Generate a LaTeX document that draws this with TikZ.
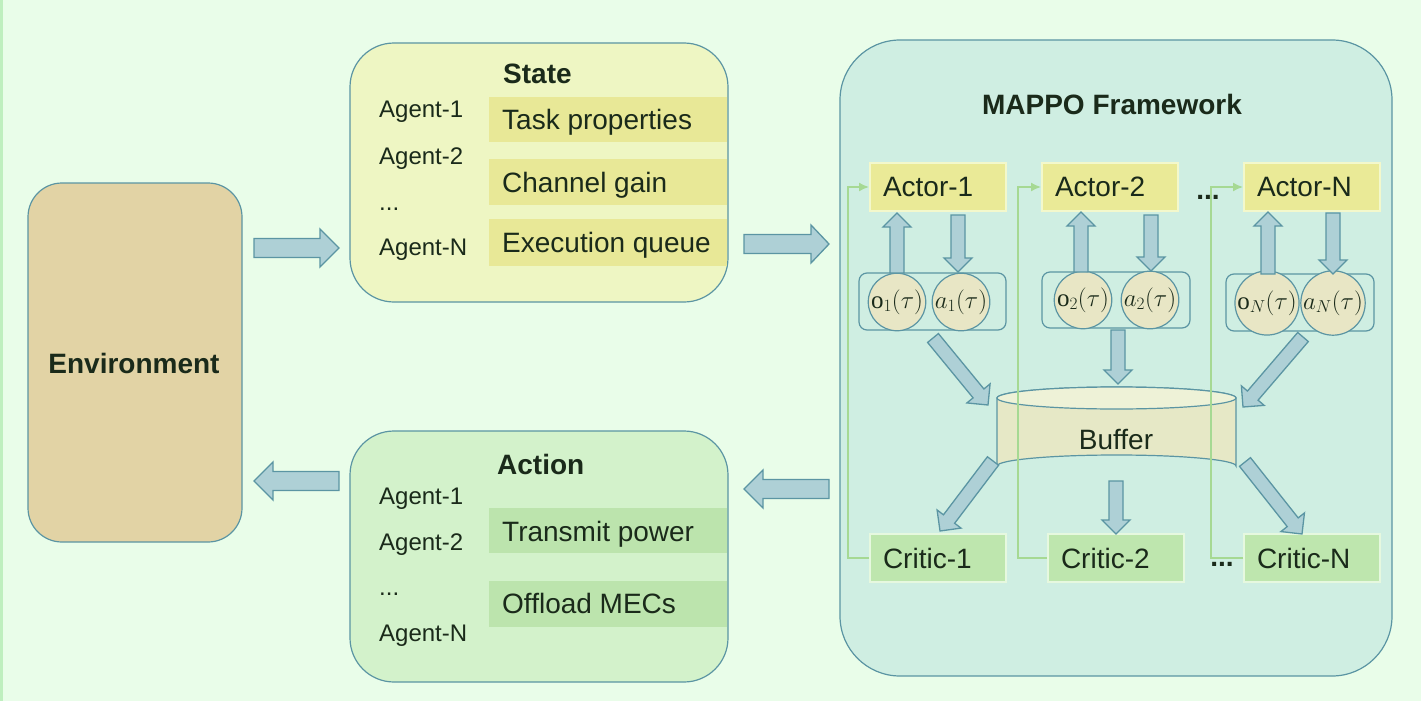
\documentclass[tikz,border=0pt]{standalone}
\usepackage{fontspec}
\setmainfont{Liberation Sans}
\setmathrm{Liberation Serif}
\usetikzlibrary{calc,arrows.meta}
\definecolor{bg}{HTML}{E9FDE9}
\definecolor{strip}{HTML}{BFEFBF}
\definecolor{teal}{HTML}{5B95A3}
\definecolor{arrfill}{HTML}{AED0D6}
\definecolor{envfill}{HTML}{E2D3A5}
\definecolor{statefill}{HTML}{EEF6C3}
\definecolor{stateband}{HTML}{E8E897}
\definecolor{actionfill}{HTML}{D3F2CB}
\definecolor{actionband}{HTML}{BCE4AD}
\definecolor{mappofill}{HTML}{CFEEE2}
\definecolor{actorfill}{HTML}{EAEA97}
\definecolor{actorline}{HTML}{F3F8CC}
\definecolor{criticfill}{HTML}{BEE6AE}
\definecolor{criticline}{HTML}{E6F8DF}
\definecolor{circfill}{HTML}{E8E6C5}
\definecolor{buffill}{HTML}{E6E8C6}
\definecolor{buftop}{HTML}{EEF2D7}
\definecolor{fbgreen}{HTML}{A6D993}
\definecolor{ink}{HTML}{1A2A1A}
\newcommand\fbig{\fontsize{28}{32}\selectfont}
\newcommand\fagent{\fontsize{24}{28}\selectfont}
\newcommand\fmath{\fontsize{25}{28}\selectfont}
\newcommand\fatarrow[5]{%
  \coordinate (fab) at ($(#2)!#5!(#1)$);
  \draw[fatstyle] ($(#1)!#3!90:(#2)$) -- ($(fab)!#3!-90:(#1)$) -- ($(fab)!#4!-90:(#1)$) -- (#2)
    -- ($(fab)!#4!90:(#1)$) -- ($(fab)!#3!90:(#1)$) -- ($(#1)!#3!-90:(#2)$) -- cycle;}
\begin{document}
\begin{tikzpicture}[x=1pt,y=-1pt,
  every node/.style={text=ink},
  fatstyle/.style={draw=teal, fill=arrfill, line width=1.3pt, line join=miter},
  bigbox/.style={draw=teal, line width=1.2pt},
  agent/.style={anchor=base west, font=\fagent, inner sep=0pt},
  bandtext/.style={anchor=base west, font=\fbig, inner sep=0pt},
  title/.style={font=\fbig\bfseries, inner sep=0pt},
  actorbox/.style={draw=actorline, fill=actorfill, line width=2pt, minimum height=48pt,
    text width=110pt, inner xsep=13pt, align=left, font=\fbig},
  criticbox/.style={draw=criticline, fill=criticfill, line width=2pt, minimum height=48pt,
    text width=110pt, inner xsep=13pt, align=left, font=\fbig},
  grp/.style={draw=teal, line width=1.2pt, rounded corners=8pt},
  obs/.style={circle, draw=teal, fill=circfill, line width=1.2pt, minimum size=54pt, inner sep=0pt, font=\fmath},
  fb/.style={draw=fbgreen, line width=1.6pt, -{Latex[length=10pt,width=9pt]}},
  dots/.style={font=\fbig\bfseries, inner sep=0pt, anchor=base}
]
\useasboundingbox (0,0) rectangle (1421,701);
\fill[bg] (0,0) rectangle (1421,701);
\fill[strip] (0,0) rectangle (3,701);

% Environment
\draw[bigbox, fill=envfill, rounded corners=34pt] (28,183) rectangle (242,542);
\node[title, anchor=base] (env) at (134,373) {Environment};

% State box
\draw[bigbox, fill=statefill, rounded corners=44pt] (350,43) rectangle (728,302);
\fill[stateband] (489,97) rectangle (727,142);
\fill[stateband] (489,159) rectangle (727,205);
\fill[stateband] (489,219) rectangle (727,266);
\node[title, anchor=base west] (state) at (503,83) {State};
\node[agent] (s1) at (379,117) {Agent-1};
\node[agent] (s2) at (379,164) {Agent-2};
\node[agent] (s3) at (379,210) {...};
\node[agent] (s4) at (379,255) {Agent-N};
\node[bandtext] (st1) at (502,129) {Task properties};
\node[bandtext] (st2) at (502,192) {Channel gain};
\node[bandtext] (st3) at (502,252) {Execution queue};

% Action box
\draw[bigbox, fill=actionfill, rounded corners=44pt] (350,431) rectangle (728,682);
\fill[actionband] (489,508) rectangle (727,553);
\fill[actionband] (489,581) rectangle (727,627);
\node[title, anchor=base west] (action) at (497,474) {Action};
\node[agent] (c1a) at (379,504) {Agent-1};
\node[agent] (c2a) at (379,550) {Agent-2};
\node[agent] (c3a) at (379,595) {...};
\node[agent] (c4a) at (379,641) {Agent-N};
\node[bandtext] (at1) at (502,541) {Transmit power};
\node[bandtext] (at2) at (502,613) {Offload MECs};

% big arrows
\coordinate (e1s) at (254,248); \coordinate (e1t) at (339,248);
\coordinate (e2s) at (339,481); \coordinate (e2t) at (254,481);
\coordinate (e3s) at (744,244); \coordinate (e3t) at (829,244);
\coordinate (e4s) at (829,489); \coordinate (e4t) at (744,489);
\fatarrow{e1s}{e1t}{9.5pt}{19pt}{19pt}
\fatarrow{e2s}{e2t}{9.5pt}{19pt}{19pt}
\fatarrow{e3s}{e3t}{9.5pt}{19pt}{18pt}
\fatarrow{e4s}{e4t}{9.5pt}{19pt}{19pt}

% MAPPO framework
\draw[bigbox, fill=mappofill, rounded corners=60pt] (840,40) rectangle (1392,676);
\node[title] (mappo) at (1112,104) {MAPPO Framework};

% Actors
\node[actorbox] (A1) at (938,187) {Actor-1};
\node[actorbox] (A2) at (1110,187) {Actor-2};
\node[actorbox] (AN) at (1312,187) {Actor-N};
\node[dots] (adots) at (1208,199) {...};

% observation groups
\draw[grp] (859,273) rectangle (1006,330);
\draw[grp] (1042,272) rectangle (1190,328);
\draw[grp] (1226,274) rectangle (1374,331);
\node[obs] (O1) at (897,302) {$\mathrm{o}_1(\tau)$};
\node[obs] (P1) at (961,302) {$a_1(\tau)$};
\node[obs] (O2) at (1083,300) {$\mathrm{o}_2(\tau)$};
\node[obs] (P2) at (1150,300) {$a_2(\tau)$};
\node[obs] (ON) at (1267,303) {$\mathrm{o}_N(\tau)$};
\node[obs] (PN) at (1333,303) {$a_N(\tau)$};

% actor/obs arrows
\coordinate (u1s) at (897,273); \coordinate (u1t) at (897,213);
\coordinate (d1s) at (958,215); \coordinate (d1t) at (958,272);
\coordinate (u2s) at (1081,272); \coordinate (u2t) at (1081,212);
\coordinate (d2s) at (1151,215); \coordinate (d2t) at (1151,271);
\coordinate (u3s) at (1268,274); \coordinate (u3t) at (1268,212);
\coordinate (d3s) at (1333,213); \coordinate (d3t) at (1333,274);
\fatarrow{u1s}{u1t}{7pt}{14pt}{14pt}
\fatarrow{d1s}{d1t}{7pt}{14pt}{14pt}
\fatarrow{u2s}{u2t}{7pt}{14pt}{14pt}
\fatarrow{d2s}{d2t}{7pt}{14pt}{14pt}
\fatarrow{u3s}{u3t}{7pt}{14pt}{14pt}
\fatarrow{d3s}{d3t}{7pt}{14pt}{14pt}

% Buffer
\fill[buffill, draw=teal, line width=1.2pt] (997,398) -- (997,466)
  arc[start angle=180, end angle=0, x radius=119.5pt, y radius=11pt] -- (1236,398)
  arc[start angle=0, end angle=180, x radius=119.5pt, y radius=11pt] -- cycle;
\draw[fill=buftop, draw=teal, line width=1.2pt] (1116.5,398) ellipse[x radius=119.5pt, y radius=11pt];
\node[font=\fbig, inner sep=0pt] (B) at (1116,440) {Buffer};

% arrows into buffer
\coordinate (b1s) at (933,338); \coordinate (b1t) at (988,405);
\coordinate (b2s) at (1118,330); \coordinate (b2t) at (1118,384);
\coordinate (b3s) at (1303,337); \coordinate (b3t) at (1243,407);
\fatarrow{b1s}{b1t}{7pt}{15pt}{15pt}
\fatarrow{b2s}{b2t}{7pt}{14pt}{14pt}
\fatarrow{b3s}{b3t}{7pt}{15pt}{15pt}

% Critics
\node[criticbox] (C1) at (938,558) {Critic-1};
\node[criticbox] (C2) at (1116,558) {Critic-2};
\node[criticbox] (CN) at (1312,558) {Critic-N};

% arrows from buffer
\coordinate (k1s) at (993,461); \coordinate (k1t) at (940,531);
\coordinate (k2s) at (1116,481); \coordinate (k2t) at (1116,534);
\coordinate (k3s) at (1245,462); \coordinate (k3t) at (1302,534);
\fatarrow{k1s}{k1t}{7pt}{15pt}{15pt}
\fatarrow{k2s}{k2t}{7pt}{14pt}{14pt}
\fatarrow{k3s}{k3t}{7pt}{15pt}{15pt}

% feedback lines
\draw[fb] (C1.west) -- ++(-21,0) |- (A1.west);
\draw[fb] (C2.west) -- ++(-29,0) |- (A2.west);
\draw[fb] (CN.west) -- ++(-32,0) |- (AN.west);
\node[dots] (cdots) at (1222,566) {...};
\end{tikzpicture}
\end{document}
